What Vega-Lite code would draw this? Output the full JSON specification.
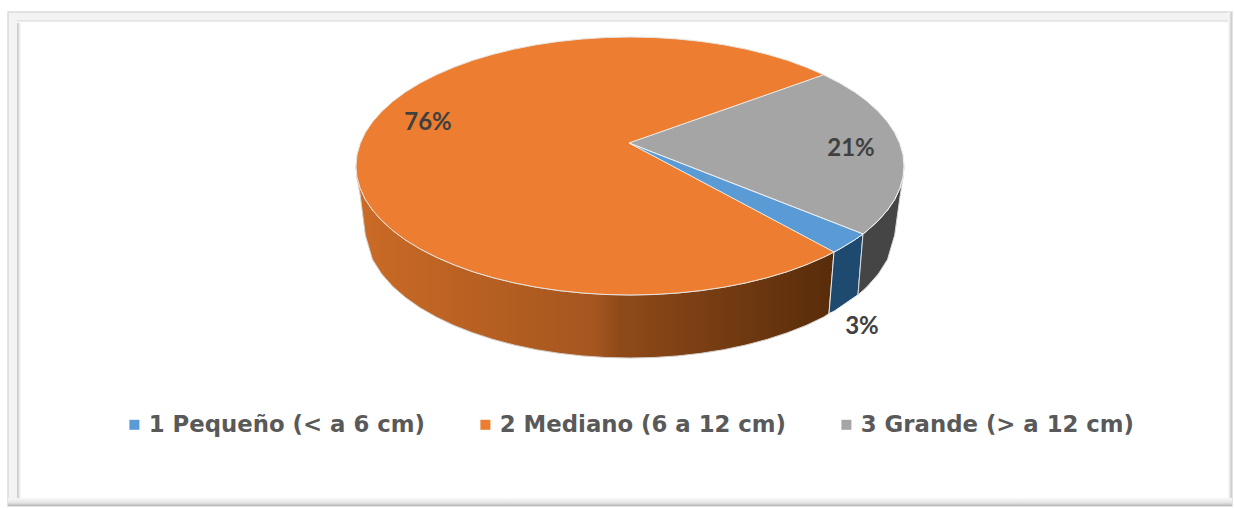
{
"$schema":"https://vega.github.io/schema/vega-lite/v6.json",
"width":1234,"height":508,"padding":0,"autosize":{"type":"none"},
"background":"white",
"config":{"view":{"stroke":null}},
"datasets":{
"frame":[{"x":8,"x2":1232,"y":12,"y2":506}],
"inner":[{"x":17,"x2":1229,"y":20,"y2":498}],
"stripLeft":[{"x":17,"x2":21,"y":20,"y2":498}],
"stripTop":[{"x":17,"x2":1229,"y":20,"y2":23}],
"stripBottom":[{"x":8,"x2":1232,"y":498,"y2":506}],
"stripRight":[{"x":1228,"x2":1232,"y":12,"y2":506}],
"top":[
{"s":"2 Mediano (6 a 12 cm)","x":356,"y":166,"y2":166},{"s":"2 Mediano (6 a 12 cm)","x":357,"y":154.8,"y2":177.2},{"s":"2 Mediano (6 a 12 cm)","x":360.2,"y":143.6,"y2":188.4},{"s":"2 Mediano (6 a 12 cm)","x":365.3,"y":132.6,"y2":199.4},{"s":"2 Mediano (6 a 12 cm)","x":372.5,"y":121.9,"y2":210.1},{"s":"2 Mediano (6 a 12 cm)","x":381.7,"y":111.5,"y2":220.5},{"s":"2 Mediano (6 a 12 cm)","x":392.7,"y":101.5,"y2":230.5},{"s":"2 Mediano (6 a 12 cm)","x":405.5,"y":92,"y2":240},{"s":"2 Mediano (6 a 12 cm)","x":420.1,"y":83.1,"y2":248.9},{"s":"2 Mediano (6 a 12 cm)","x":436.3,"y":74.8,"y2":257.2},{"s":"2 Mediano (6 a 12 cm)","x":453.9,"y":67.2,"y2":264.8},{"s":"2 Mediano (6 a 12 cm)","x":472.8,"y":60.3,"y2":271.7},{"s":"2 Mediano (6 a 12 cm)","x":493,"y":54.3,"y2":277.7},{"s":"2 Mediano (6 a 12 cm)","x":514.2,"y":49.1,"y2":282.9},{"s":"2 Mediano (6 a 12 cm)","x":536.3,"y":44.8,"y2":287.2},{"s":"2 Mediano (6 a 12 cm)","x":559.1,"y":41.4,"y2":290.6},{"s":"2 Mediano (6 a 12 cm)","x":582.4,"y":39,"y2":293},{"s":"2 Mediano (6 a 12 cm)","x":606.1,"y":37.5,"y2":294.5},{"s":"2 Mediano (6 a 12 cm)","x":630,"y":37,"y2":295},{"s":"2 Mediano (6 a 12 cm)","x":653.9,"y":37.5,"y2":294.5},{"s":"2 Mediano (6 a 12 cm)","x":677.6,"y":39,"y2":293},{"s":"2 Mediano (6 a 12 cm)","x":700.9,"y":41.4,"y2":290.6},{"s":"2 Mediano (6 a 12 cm)","x":723.7,"y":44.8,"y2":287.2},{"s":"2 Mediano (6 a 12 cm)","x":745.8,"y":49.1,"y2":282.9},{"s":"2 Mediano (6 a 12 cm)","x":767,"y":54.3,"y2":277.7},{"s":"2 Mediano (6 a 12 cm)","x":787.2,"y":60.3,"y2":271.7},{"s":"2 Mediano (6 a 12 cm)","x":806.1,"y":67.2,"y2":264.8},{"s":"2 Mediano (6 a 12 cm)","x":823.7,"y":74.8,"y2":257.2},{"s":"2 Mediano (6 a 12 cm)","x":839.9,"y":83.1,"y2":248.9},{"s":"2 Mediano (6 a 12 cm)","x":854.5,"y":92,"y2":240},{"s":"2 Mediano (6 a 12 cm)","x":867.3,"y":101.5,"y2":230.5},{"s":"2 Mediano (6 a 12 cm)","x":878.3,"y":111.5,"y2":220.5},{"s":"2 Mediano (6 a 12 cm)","x":887.5,"y":121.9,"y2":210.1},{"s":"2 Mediano (6 a 12 cm)","x":894.7,"y":132.6,"y2":199.4},{"s":"2 Mediano (6 a 12 cm)","x":899.8,"y":143.6,"y2":188.4},{"s":"2 Mediano (6 a 12 cm)","x":903,"y":154.8,"y2":177.2},{"s":"2 Mediano (6 a 12 cm)","x":904,"y":166,"y2":166},
{"s":"3 Grande (> a 12 cm)","x":629,"y":143,"y2":143},{"s":"3 Grande (> a 12 cm)","x":823.7,"y":74.8,"y2":218.7},{"s":"3 Grande (> a 12 cm)","x":839.9,"y":83.1,"y2":225},{"s":"3 Grande (> a 12 cm)","x":854.5,"y":92,"y2":230.7},{"s":"3 Grande (> a 12 cm)","x":863,"y":98.1,"y2":234},{"s":"3 Grande (> a 12 cm)","x":867.3,"y":101.5,"y2":230.5},{"s":"3 Grande (> a 12 cm)","x":878.3,"y":111.5,"y2":220.5},{"s":"3 Grande (> a 12 cm)","x":887.5,"y":121.9,"y2":210.1},{"s":"3 Grande (> a 12 cm)","x":894.7,"y":132.6,"y2":199.4},{"s":"3 Grande (> a 12 cm)","x":899.8,"y":143.6,"y2":188.4},{"s":"3 Grande (> a 12 cm)","x":903,"y":154.8,"y2":177.2},{"s":"3 Grande (> a 12 cm)","x":904,"y":166,"y2":166},
{"s":"1 Pequeño (< a 6 cm)","x":629,"y":143,"y2":143},{"s":"1 Pequeño (< a 6 cm)","x":834,"y":222.7,"y2":252},{"s":"1 Pequeño (< a 6 cm)","x":839.9,"y":225,"y2":248.9},{"s":"1 Pequeño (< a 6 cm)","x":854.5,"y":230.7,"y2":240},{"s":"1 Pequeño (< a 6 cm)","x":863,"y":234,"y2":234}
],
"sideOrange":[
{"x":356,"y":166,"y2":166},{"x":357,"y":177.2,"y2":178},{"x":360.2,"y":188.4,"y2":195},{"x":365.3,"y":199.4,"y2":235},{"x":372.5,"y":210.1,"y2":259.5},{"x":381.7,"y":220.5,"y2":274},{"x":392.7,"y":230.5,"y2":286.4},{"x":405.5,"y":240,"y2":297.5},{"x":420.1,"y":248.9,"y2":307.8},{"x":436.3,"y":257.2,"y2":317},{"x":453.9,"y":264.8,"y2":325.4},{"x":472.8,"y":271.7,"y2":332.8},{"x":493,"y":277.7,"y2":339.4},{"x":514.2,"y":282.9,"y2":345},{"x":536.3,"y":287.2,"y2":349.7},{"x":559.1,"y":290.6,"y2":353.3},{"x":582.4,"y":293,"y2":355.9},{"x":606.1,"y":294.5,"y2":357.5},{"x":630,"y":295,"y2":358},{"x":653.9,"y":294.5,"y2":357.5},{"x":677.6,"y":293,"y2":355.9},{"x":700.9,"y":290.6,"y2":353.3},{"x":723.7,"y":287.2,"y2":349.7},{"x":745.8,"y":282.9,"y2":345},{"x":767,"y":277.7,"y2":339.4},{"x":787.2,"y":271.7,"y2":332.8},{"x":806.1,"y":264.8,"y2":325.4},{"x":823.7,"y":257.2,"y2":317},{"x":829,"y":254.7,"y2":313.5},{"x":834,"y":252,"y2":252}
],
"sideBlue":[{"x":829,"y":313.5,"y2":313.5},{"x":834,"y":252,"y2":311.3},{"x":858,"y":237.5,"y2":294.7},{"x":863,"y":234,"y2":234}],
"sideGray":[{"x":858,"y":294.7,"y2":294.7},{"x":863,"y":234,"y2":290.5},{"x":867.3,"y":230.5,"y2":286.4},{"x":878.3,"y":220.5,"y2":274},{"x":887.5,"y":210.1,"y2":259.5},{"x":894.7,"y":199.4,"y2":235},{"x":899.8,"y":188.4,"y2":198},{"x":903,"y":177.2,"y2":178},{"x":904,"y":166,"y2":166}],
"labels":[{"x":428,"y":123,"t":"76%"},{"x":851,"y":149,"t":"21%"},{"x":862,"y":327,"t":"3%"}]
},
"encoding":{
"x":{"field":"x","type":"quantitative","scale":{"domain":[0,1234],"nice":false,"zero":false},"axis":null},
"y":{"field":"y","type":"quantitative","scale":{"domain":[0,508],"reverse":true,"nice":false,"zero":false},"axis":null}
},
"layer":[
{"data":{"name":"frame"},"mark":{"type":"rect","fill":"#f3f3f3","stroke":"#dcdcdc","strokeWidth":1.5},"encoding":{"x2":{"field":"x2"},"y2":{"field":"y2"}}},
{"data":{"name":"inner"},"mark":{"type":"rect","fill":"#ffffff"},"encoding":{"x2":{"field":"x2"},"y2":{"field":"y2"}}},
{"data":{"name":"stripLeft"},"mark":{"type":"rect","fill":{"x1":0,"y1":0,"x2":1,"y2":0,"gradient":"linear","stops":[{"offset":0,"color":"#c4c4c4"},{"offset":1,"color":"#ffffff"}]}},"encoding":{"x2":{"field":"x2"},"y2":{"field":"y2"}}},
{"data":{"name":"stripTop"},"mark":{"type":"rect","fill":{"x1":0,"y1":0,"x2":0,"y2":1,"gradient":"linear","stops":[{"offset":0,"color":"#dcdcdc"},{"offset":1,"color":"#ffffff"}]}},"encoding":{"x2":{"field":"x2"},"y2":{"field":"y2"}}},
{"data":{"name":"stripRight"},"mark":{"type":"rect","fill":{"x1":0,"y1":0,"x2":1,"y2":0,"gradient":"linear","stops":[{"offset":0,"color":"#ffffff"},{"offset":1,"color":"#c8c8c8"}]}},"encoding":{"x2":{"field":"x2"},"y2":{"field":"y2"}}},
{"data":{"name":"stripBottom"},"mark":{"type":"rect","fill":{"x1":0,"y1":0,"x2":0,"y2":1,"gradient":"linear","stops":[{"offset":0,"color":"#f8f8f8"},{"offset":0.6,"color":"#e4e4e4"},{"offset":1,"color":"#b4b4b4"}]}},"encoding":{"x2":{"field":"x2"},"y2":{"field":"y2"}}},
{"data":{"name":"sideOrange"},"mark":{"type":"area","stroke":"#d4cfca","strokeWidth":1,"fill":{"x1":0,"y1":0,"x2":1,"y2":0,"gradient":"linear","stops":[{"offset":0,"color":"#CB6B26"},{"offset":0.5,"color":"#A5561F"},{"offset":0.55,"color":"#8F4A19"},{"offset":1,"color":"#582C0A"}]}},"encoding":{"y2":{"field":"y2"}}},
{"data":{"name":"sideBlue"},"mark":{"type":"area","fill":"#1F4A70","stroke":"#e6edf2","strokeWidth":1},"encoding":{"y2":{"field":"y2"}}},
{"data":{"name":"sideGray"},"mark":{"type":"area","fill":"#454545","stroke":"#d8d8d8","strokeWidth":1},"encoding":{"y2":{"field":"y2"}}},
{"data":{"name":"top"},"transform":[{"filter":"datum.s[0]==='2'"}],"mark":{"type":"area","stroke":"#e9e4de","strokeWidth":1},"encoding":{"y2":{"field":"y2"},"color":{"field":"s","type":"nominal","scale":{"domain":["1 Pequeño (< a 6 cm)","2 Mediano (6 a 12 cm)","3 Grande (> a 12 cm)"],"range":["#5B9BD5","#ED7D31","#A5A5A5"]},"legend":{"title":null,"orient":"none","legendX":123,"legendY":413,"direction":"horizontal","columns":3,"columnPadding":49,"symbolType":"square","symbolSize":100,"symbolStrokeWidth":0,"labelFont":"DejaVu Sans","labelFontWeight":"bold","labelFontSize":22.8,"labelColor":"#595959","labelOffset":3,"labelLimit":400}}}},
{"data":{"name":"top"},"transform":[{"filter":"datum.s[0]==='3'"}],"mark":{"type":"area","stroke":"#f2f2f2","strokeWidth":1},"encoding":{"y2":{"field":"y2"},"color":{"field":"s","type":"nominal"}}},
{"data":{"name":"top"},"transform":[{"filter":"datum.s[0]==='1'"}],"mark":{"type":"area","stroke":"#f2f2f2","strokeWidth":1},"encoding":{"y2":{"field":"y2"},"color":{"field":"s","type":"nominal"}}},
{"data":{"name":"labels"},"mark":{"type":"text","font":"Lato","fontWeight":"bold","fontSize":24,"color":"#404040","align":"center","baseline":"middle"},"encoding":{"text":{"field":"t"}}}
]
}
